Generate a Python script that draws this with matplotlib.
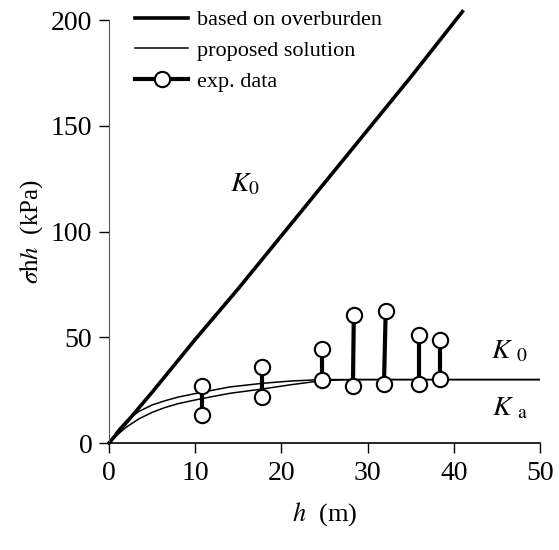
import matplotlib.pyplot as plt
import numpy as np

plt.rcParams['font.family'] = 'Liberation Serif'
plt.rcParams['mathtext.fontset'] = 'stix'

# based on overburden (K0 line)
h_ob = [0, 5, 10, 15, 20, 25, 30, 35, 41]
s_ob = [0, 24, 49, 73, 98, 123, 148, 173, 204]

# proposed solution, K0 and Ka curves
h_k0 = [0, 1, 2, 3.5, 5, 6.5, 8, 10.75, 14, 17.7, 21, 24.7, 30, 50]
s_k0 = [0, 6, 10.5, 15, 18, 20, 21.7, 24, 26.5, 28.2, 29.3, 30, 30, 30]
h_ka = [0, 1, 2, 3.5, 5, 6.5, 8, 10.75, 14, 17.7, 21, 24.7, 28, 50]
s_ka = [0, 4, 7.5, 11.5, 14.5, 16.8, 18.6, 21, 23.5, 25.5, 27.5, 29.5, 30, 30]

# exp. data, pairs (top, bottom)
h_top = [10.75, 17.7, 24.7, 28.4, 32.1, 36.0, 38.4]
s_top = [27.1, 36.1, 44.3, 60.5, 62.6, 51, 48.7]
h_bot = [10.75, 17.7, 24.7, 28.3, 31.9, 36.0, 38.4]
s_bot = [13.2, 21.6, 29.8, 27.1, 27.9, 27.9, 30.1]

fig = plt.figure(figsize=(5.59, 5.5), dpi=100)
ax = fig.add_axes([0.195, 0.1945, 0.771, 0.769])

ax.plot(h_ob, s_ob, color='black', lw=2.6, clip_on=False, label='based on overburden')
ax.plot(h_k0, s_k0, color='black', lw=1.1, label='proposed solution')
ax.plot(h_ka, s_ka, color='black', lw=1.1)

for i in range(len(h_top)):
    lbl = 'exp. data' if i == 0 else None
    ax.plot([h_top[i], h_bot[i]], [s_top[i], s_bot[i]], color='black', lw=3,
            marker='o', ms=11, mfc='white', mec='black', mew=1.5,
            clip_on=False, label=lbl, zorder=5)

ax.set_xlim(0, 50)
ax.set_ylim(0, 200)
ax.set_xticks(np.arange(0, 51, 10))
ax.set_yticks(np.arange(0, 201, 50))
ax.tick_params(direction='out', length=7, labelsize=20, width=1)
ax.tick_params(axis='x', pad=6)
ax.tick_params(axis='y', pad=5)
for s in ['top', 'right']:
    ax.spines[s].set_visible(False)
ax.spines['left'].set_color('#555555')
ax.spines['bottom'].set_linewidth(1.2)

ax.set_xlabel(r'$h$  (m)', fontsize=19, labelpad=10)
ax.set_ylabel(r'$\sigma\mathrm{h}h$  (kPa)', fontsize=18, labelpad=4)

ax.text(15.8, 122, r'$K_0$', fontsize=20, ha='center', va='center')
ax.text(46.5, 43, r'$K\ _0$', fontsize=20, ha='center', va='center')
ax.text(46.5, 16.5, r'$K\ _\mathrm{a}$', fontsize=20, ha='center', va='center')

ax.legend(loc='upper left', bbox_to_anchor=(0.04, 1.045), frameon=False,
          fontsize=16, handlelength=2.4, handletextpad=0.4, labelspacing=0.45,
          borderaxespad=0)

fig.savefig('out.png', dpi=100)
